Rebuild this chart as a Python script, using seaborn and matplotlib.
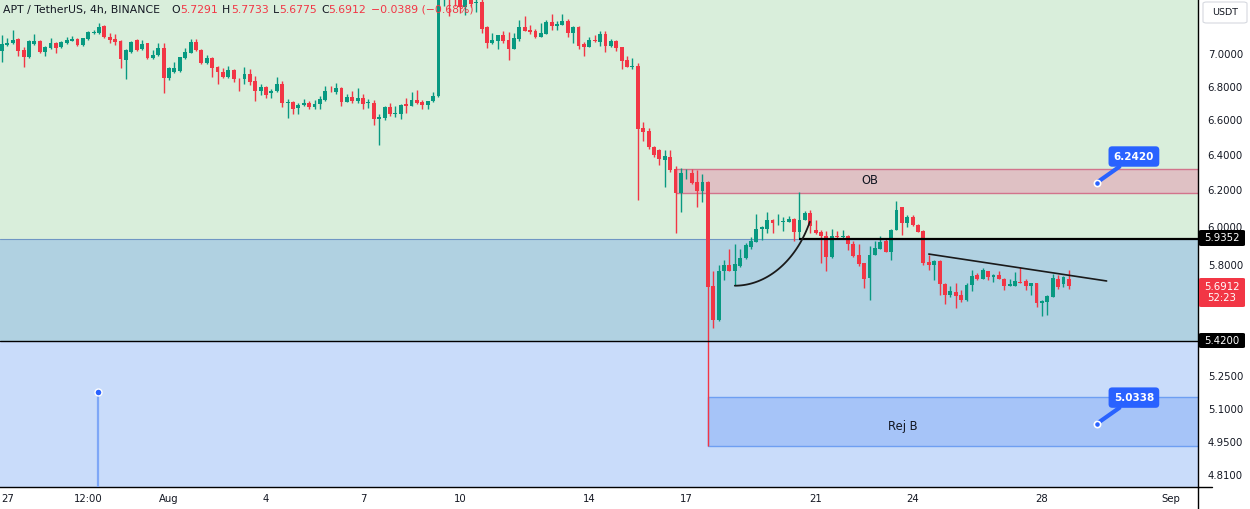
import numpy as np
import pandas as pd
import matplotlib
matplotlib.use("Agg")
import matplotlib.pyplot as plt
import seaborn as sns
from matplotlib.patches import Rectangle, FancyBboxPatch
from matplotlib.ticker import NullLocator, NullFormatter
from matplotlib.lines import Line2D

# ---------------- data (APT/USDT 4h candles, Jul 26 20:00 -> Aug 28 20:00) ----------------
opens = [7.019, 7.057, 7.068, 7.092, 7.025, 6.979, 7.061, 7.083, 7.015, 7.036,
         7.072, 7.042, 7.068, 7.083, 7.094, 7.057, 7.092, 7.136, 7.135, 7.177,
         7.109, 7.094, 7.082, 6.963, 7.015, 7.088, 7.029, 7.067, 6.973, 6.994,
         7.036, 6.850, 6.891, 6.897, 6.973, 7.008, 7.078, 7.025, 6.942, 6.973,
         6.921, 6.889, 6.860, 6.901, 6.848, 6.844, 6.876, 6.834, 6.775, 6.799,
         6.763, 6.771, 6.815, 6.698, 6.708, 6.669, 6.687, 6.703, 6.679, 6.693,
         6.718, 6.775, 6.769, 6.793, 6.708, 6.737, 6.714, 6.731, 6.698, 6.703,
         6.607, 6.609, 6.675, 6.637, 6.635, 6.695, 6.685, 6.718, 6.704, 6.689,
         6.710, 6.740, 7.400, 7.480, 7.400, 7.380, 7.300, 7.380, 7.325, 7.330,
         7.170, 7.072, 7.084, 7.120, 7.088, 7.031, 7.094, 7.169, 7.152, 7.146,
         7.109, 7.126, 7.201, 7.180, 7.184, 7.210, 7.135, 7.174, 7.061, 7.046,
         7.088, 7.078, 7.126, 7.052, 7.082, 7.042, 6.963, 6.919, 6.925, 6.554,
         6.535, 6.445, 6.425, 6.368, 6.387, 6.317, 6.185, 6.294, 6.298, 6.243,
         6.196, 6.246, 5.689, 5.523, 5.770, 5.800, 5.770, 5.795, 5.835, 5.892,
         5.919, 5.989, 5.989, 6.037, 6.024, 6.025, 6.028, 6.042, 5.970, 6.034,
         6.076, 5.984, 5.972, 5.952, 5.839, 5.950, 5.946, 5.952, 5.910, 5.852,
         5.809, 5.732, 5.849, 5.882, 5.923, 5.869, 5.984, 6.105, 6.019, 6.055,
         6.010, 5.980, 5.817, 5.797, 5.822, 5.703, 5.647, 5.661, 5.644, 5.619,
         5.695, 5.749, 5.727, 5.770, 5.735, 5.749, 5.727, 5.693, 5.693, 5.712,
         5.715, 5.693, 5.706, 5.608, 5.613, 5.637, 5.728, 5.703, 5.7291]
highs = [7.120, 7.103, 7.152, 7.099, 7.046, 7.088, 7.124, 7.088, 7.050, 7.099,
         7.078, 7.084, 7.109, 7.116, 7.099, 7.103, 7.146, 7.152, 7.199, 7.182,
         7.131, 7.126, 7.086, 7.029, 7.084, 7.094, 7.088, 7.072, 7.025, 7.067,
         7.067, 6.921, 6.952, 6.983, 7.036, 7.092, 7.092, 7.029, 6.994, 6.983,
         6.925, 6.911, 6.925, 6.905, 6.854, 6.917, 6.907, 6.864, 6.815, 6.803,
         6.785, 6.856, 6.831, 6.724, 6.712, 6.703, 6.722, 6.712, 6.718, 6.743,
         6.805, 6.805, 6.820, 6.795, 6.755, 6.773, 6.789, 6.755, 6.726, 6.718,
         6.635, 6.683, 6.703, 6.683, 6.695, 6.729, 6.767, 6.779, 6.718, 6.712,
         6.767, 7.460, 7.520, 7.500, 7.450, 7.400, 7.400, 7.400, 7.370, 7.360,
         7.175, 7.131, 7.120, 7.146, 7.140, 7.131, 7.216, 7.242, 7.184, 7.157,
         7.195, 7.216, 7.253, 7.210, 7.255, 7.222, 7.177, 7.177, 7.078, 7.105,
         7.120, 7.146, 7.146, 7.094, 7.086, 7.046, 6.988, 6.977, 6.946, 6.589,
         6.551, 6.450, 6.430, 6.425, 6.425, 6.334, 6.326, 6.317, 6.317, 6.311,
         6.292, 6.252, 5.766, 5.800, 5.826, 5.883, 5.910, 5.882, 5.913, 5.945,
         6.069, 6.005, 6.082, 6.040, 6.069, 6.055, 6.058, 6.046, 6.187, 6.087,
         6.091, 6.037, 5.984, 5.980, 5.987, 5.980, 5.984, 5.957, 5.923, 5.908,
         5.812, 5.896, 5.926, 5.952, 5.935, 5.987, 6.141, 6.109, 6.064, 6.064,
         6.014, 5.984, 5.852, 5.826, 5.826, 5.706, 5.690, 5.706, 5.673, 5.706,
         5.774, 5.757, 5.782, 5.770, 5.752, 5.770, 5.731, 5.727, 5.762, 5.787,
         5.727, 5.706, 5.706, 5.622, 5.647, 5.752, 5.749, 5.740, 5.7733]
lows = [6.952, 7.052, 7.061, 6.988, 6.921, 6.973, 7.057, 7.004, 6.988, 7.029,
        7.004, 7.036, 7.061, 7.080, 7.052, 7.052, 7.086, 7.124, 7.128, 7.101,
        7.071, 7.055, 6.915, 6.846, 7.004, 7.019, 7.025, 6.969, 6.969, 6.990,
        6.759, 6.840, 6.884, 6.891, 6.967, 7.004, 7.019, 6.938, 6.938, 6.860,
        6.813, 6.850, 6.854, 6.830, 6.775, 6.815, 6.809, 6.714, 6.749, 6.729,
        6.733, 6.767, 6.675, 6.609, 6.633, 6.633, 6.683, 6.667, 6.667, 6.665,
        6.714, 6.769, 6.757, 6.685, 6.704, 6.700, 6.700, 6.665, 6.671, 6.570,
        6.454, 6.601, 6.625, 6.619, 6.605, 6.643, 6.683, 6.695, 6.667, 6.667,
        6.704, 6.735, 7.310, 7.240, 7.310, 7.260, 7.250, 7.300, 7.270, 7.130,
        7.040, 7.061, 7.031, 7.067, 6.963, 7.031, 7.083, 7.146, 7.126, 7.103,
        7.109, 7.126, 7.152, 7.152, 7.184, 7.109, 7.067, 7.031, 6.990, 7.042,
        7.076, 7.052, 7.015, 7.046, 7.019, 6.907, 6.918, 6.907, 6.145, 6.478,
        6.431, 6.385, 6.340, 6.219, 6.300, 5.966, 6.081, 6.264, 6.232, 6.109,
        6.136, 4.935, 5.483, 5.515, 5.723, 5.766, 5.694, 5.791, 5.830, 5.883,
        5.919, 5.931, 5.966, 5.966, 6.010, 5.978, 6.028, 5.927, 5.940, 6.034,
        5.966, 5.962, 5.810, 5.770, 5.835, 5.934, 5.934, 5.878, 5.843, 5.795,
        5.681, 5.619, 5.849, 5.882, 5.866, 5.826, 5.984, 5.957, 6.001, 6.006,
        5.970, 5.800, 5.771, 5.720, 5.647, 5.602, 5.636, 5.581, 5.610, 5.615,
        5.664, 5.723, 5.727, 5.723, 5.711, 5.727, 5.669, 5.693, 5.691, 5.706,
        5.673, 5.647, 5.586, 5.540, 5.548, 5.637, 5.676, 5.686, 5.6775]
closes = [7.061, 7.068, 7.088, 7.019, 6.983, 7.082, 7.083, 7.015, 7.046, 7.072,
          7.040, 7.078, 7.088, 7.094, 7.057, 7.099, 7.141, 7.140, 7.169, 7.105,
          7.088, 7.074, 6.969, 7.025, 7.078, 7.025, 7.063, 6.973, 6.994, 7.040,
          6.850, 6.911, 6.911, 6.979, 7.013, 7.078, 7.025, 6.942, 6.973, 6.915,
          6.887, 6.860, 6.901, 6.844, 6.844, 6.876, 6.830, 6.775, 6.797, 6.749,
          6.773, 6.815, 6.698, 6.708, 6.665, 6.689, 6.703, 6.679, 6.695, 6.724,
          6.773, 6.771, 6.791, 6.708, 6.737, 6.714, 6.729, 6.695, 6.708, 6.607,
          6.619, 6.675, 6.635, 6.641, 6.687, 6.685, 6.718, 6.698, 6.689, 6.712,
          6.745, 7.400, 7.480, 7.400, 7.370, 7.300, 7.380, 7.320, 7.332, 7.160,
          7.071, 7.088, 7.120, 7.084, 7.031, 7.099, 7.169, 7.148, 7.137, 7.109,
          7.133, 7.201, 7.180, 7.190, 7.210, 7.135, 7.169, 7.052, 7.046, 7.088,
          7.080, 7.126, 7.052, 7.082, 7.040, 6.959, 6.921, 6.923, 6.546, 6.531,
          6.444, 6.400, 6.372, 6.392, 6.311, 6.185, 6.298, 6.298, 6.240, 6.196,
          6.243, 5.686, 5.523, 5.769, 5.800, 5.770, 5.805, 5.838, 5.904, 5.927,
          5.989, 5.998, 6.037, 6.023, 6.027, 6.033, 6.042, 5.970, 6.037, 6.073,
          6.005, 5.966, 5.953, 5.839, 5.952, 5.946, 5.950, 5.910, 5.847, 5.804,
          5.728, 5.852, 5.887, 5.917, 5.869, 5.984, 6.091, 6.019, 6.055, 6.010,
          5.975, 5.809, 5.797, 5.821, 5.703, 5.647, 5.664, 5.639, 5.619, 5.698,
          5.745, 5.728, 5.774, 5.735, 5.749, 5.727, 5.693, 5.703, 5.715, 5.708,
          5.693, 5.706, 5.608, 5.618, 5.642, 5.731, 5.685, 5.735, 5.6912]

first_bar_day = -1 / 6          # days from Jul 27 00:00 (first bar opens Jul 26 20:00)
bar_step_days = 1 / 6           # 4h bars

x_tick_days = [0, 2.5, 5, 8, 11, 14, 18, 21, 25, 28, 32, 36]
x_tick_labels = ["27", "12:00", "Aug", "4", "7", "10", "14", "17", "21", "24", "28", "Sep"]
y_tick_values = [7.0, 6.8, 6.6, 6.4, 6.2, 6.0, 5.8, 5.25, 5.1, 4.95, 4.81]

zone_upper = 5.9352
zone_lower = 5.42
ob_low, ob_high, ob_start_day = 6.185, 6.317, 20.667
rej_low, rej_high, rej_start_day = 4.935, 5.157, 21.667
callout_day = 33.7
callout_prices = [6.2420, 5.0338]
arc_start = (22.5, 5.693)
arc_end = (24.82, 6.027)
trend_days = [28.5, 34.0]
trend_prices = [5.856, 5.717]
ray_start_day = 24.5
marker_day, marker_price = 2.79, 5.178
last_price, countdown = 5.6912, "52:23"
change_text = "\u22120.0389 (\u22120.68%)"

# ---------------- figure ----------------
sns.set_theme(style="white")
plt.rcParams["font.family"] = ["DejaVu Sans"]

W, H = 1250, 509
fig = plt.figure(figsize=(W / 100, H / 100), dpi=100)
fig.patch.set_facecolor("white")
ax = fig.add_axes([0, 22 / H, 1198 / W, 487 / H])
ax.set_facecolor("white")

ax.set_yscale("log")
xmin, xmax = -0.229, 36.827
ymin, ymax = 4.757, 7.346
ax.set_xlim(xmin, xmax)
ax.set_ylim(ymin, ymax)

GREEN_BG = "#d9eedb"
TEAL_BG = "#b0d1e1"
BLUE_BG = "#c9dcfa"
UP = "#089981"
DOWN = "#f23645"
DARK = "#131722"
TV_BLUE = "#2962ff"

# background zones
ax.axhspan(zone_upper, 10, color=GREEN_BG, zorder=0, lw=0)
ax.axhspan(zone_lower, zone_upper, color=TEAL_BG, zorder=0, lw=0)
ax.axhspan(1, zone_lower, color=BLUE_BG, zorder=0, lw=0)
ax.axhline(zone_upper, color="#6f96c4", lw=0.8, zorder=0.5)
ax.axhline(zone_lower, color="#000000", lw=1.0, zorder=4)

# OB / Rej B boxes
ax.add_patch(Rectangle((ob_start_day, ob_low), xmax - ob_start_day + 1, ob_high - ob_low,
                       fc="#dfc1c4", ec="#d2748c", lw=1.0, zorder=1))
ax.add_patch(Rectangle((rej_start_day, rej_low), xmax - rej_start_day + 1, rej_high - rej_low,
                       fc="#a6c4f8", ec="#6e9ff2", lw=1.0, zorder=1))

# candles
df = pd.DataFrame({"open": opens, "high": highs, "low": lows, "close": closes})
df["day"] = first_bar_day + np.arange(len(df)) * bar_step_days
df["color"] = np.where(df["close"] >= df["open"], UP, DOWN)
ax.vlines(df["day"], df["low"], df["high"], colors=df["color"], lw=1.0, zorder=3)
body_lo = np.minimum(df["open"], df["close"])
body_h = np.maximum(np.abs(df["close"] - df["open"]), 0.003)
ax.bar(df["day"], body_h, bottom=body_lo, width=0.72 * bar_step_days,
       color=df["color"], lw=0, zorder=3.1)

# horizontal ray at 5.9352
ax.hlines(zone_upper, ray_start_day, xmax, color="#000000", lw=1.6, zorder=4)

# arc (rounded bottom)
theta_end = np.deg2rad(65)
a = (arc_end[0] - arc_start[0]) / np.sin(theta_end)
l0, l1 = np.log(arc_start[1]), np.log(arc_end[1])
b = (l1 - l0) / (1 - np.cos(theta_end))
t = np.linspace(0, theta_end, 60)
arc_df = pd.DataFrame({"day": arc_start[0] + a * np.sin(t),
                       "price": np.exp(l0 + b * (1 - np.cos(t)))})
sns.lineplot(data=arc_df, x="day", y="price", sort=False, color="#1a1a1a", lw=1.3, ax=ax, zorder=4)

# descending trend line
trend_df = pd.DataFrame({"day": trend_days, "price": trend_prices})
sns.lineplot(data=trend_df, x="day", y="price", color="#1a1a1a", lw=1.2, ax=ax, zorder=4)

# vertical marker line
ax.vlines(marker_day, ymin, marker_price, color="#7ea7f7", lw=1.6, zorder=4)
ax.plot([marker_day], [marker_price], marker="o", ms=5, mfc=TV_BLUE, mec="white", mew=1.0, zorder=5)

# text labels in zones
ax.text(26.68, np.sqrt(ob_low * ob_high), "OB", ha="center", va="center", fontsize=8.3, color=DARK, zorder=5)
ax.text(27.7, 5.023, "Rej B", ha="center", va="center", fontsize=8.3, color=DARK, zorder=5)

# callouts
for p in callout_prices:
    ax.annotate(f"{p:.4f}", xy=(callout_day, p), xytext=(37, 26), textcoords="offset pixels",
                ha="center", va="center", color="white", fontsize=7.5, fontweight="bold",
                bbox=dict(boxstyle="round,pad=0.5,rounding_size=0.35", fc=TV_BLUE, ec="none"),
                arrowprops=dict(arrowstyle="-", color=TV_BLUE, lw=3, shrinkA=0, shrinkB=0),
                zorder=6)
    ax.plot([callout_day], [p], marker="o", ms=4.5, mfc=TV_BLUE, mec="white", mew=1.2, zorder=7)

# axes styling
sns.despine(ax=ax, top=True, left=True, right=False, bottom=False)
for s in ["right", "bottom"]:
    ax.spines[s].set_color("#000000")
    ax.spines[s].set_linewidth(1.0)
ax.yaxis.tick_right()
ax.set_yticks(y_tick_values)
ax.set_yticklabels([f"{v:.4f}" for v in y_tick_values])
ax.yaxis.set_minor_locator(NullLocator())
ax.yaxis.set_minor_formatter(NullFormatter())
ax.set_xticks(x_tick_days)
ax.set_xticklabels(x_tick_labels)
ax.tick_params(axis="y", length=0, pad=7, labelsize=7.3, colors=DARK)
ax.tick_params(axis="x", length=0, pad=5, labelsize=7.3, colors=DARK)
ax.set_xlabel("")
ax.set_ylabel("")
ax.grid(False)

# ---------------- figure-pixel helpers ----------------
def fx(px):
    return px / W

def fy(py):
    return 1 - py / H

fig.add_artist(Line2D([fx(1198), fx(1198)], [fy(487), fy(509)], color="black", lw=1.0))
fig.add_artist(Line2D([fx(1198), fx(1212)], [fy(487), fy(487)], color="black", lw=1.0))

def price_tag(yc, h, color, text, size=7.3):
    fig.add_artist(FancyBboxPatch((fx(1199), fy(yc + h / 2)), fx(1245) - fx(1199), h / H,
                                  boxstyle="round,pad=0,rounding_size=0.002", fc=color, ec="none",
                                  transform=fig.transFigure, zorder=10))
    fig.text(fx(1222), fy(yc), text, ha="center", va="center", color="white", fontsize=size,
             linespacing=1.15, zorder=11)

price_tag(238, 16, "#000000", f"{zone_upper:.4f}")
price_tag(292.5, 29, DOWN, f"{last_price:.4f}\n{countdown}")
price_tag(340.5, 15, "#000000", f"{zone_lower:.4f}")

# USDT box
fig.add_artist(FancyBboxPatch((fx(1203), fy(23)), fx(1247) - fx(1203), 21 / H,
                              boxstyle="round,pad=0,rounding_size=0.003", fc="white", ec="#d6d9e0",
                              lw=0.8, transform=fig.transFigure, zorder=10))
fig.text(fx(1225), fy(12.5), "USDT", ha="center", va="center", fontsize=6.8, color=DARK, zorder=11)

# header
hdr_y = fy(10)
fig.text(fx(3), hdr_y, "APT / TetherUS, 4h, BINANCE", ha="left", va="center", fontsize=7.8, color=DARK, zorder=11)
parts = [(171, "O", DARK), (180, f"{opens[-1]:.4f}", DOWN),
         (222, "H", DARK), (231.5, f"{highs[-1]:.4f}", DOWN),
         (273, "L", DARK), (279.5, f"{lows[-1]:.4f}", DOWN),
         (321, "C", DARK), (328.5, f"{closes[-1]:.4f}", DOWN),
         (371, change_text, DOWN)]
for px, txt, col in parts:
    fig.text(fx(px), hdr_y, txt, ha="left", va="center", fontsize=7.8, color=col, zorder=11)

fig.savefig("out.png", dpi=100, facecolor="white")
